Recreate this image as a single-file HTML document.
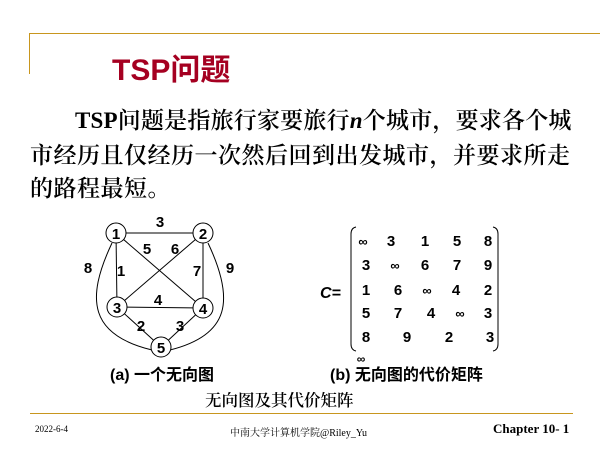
<!DOCTYPE html>
<html><head><meta charset="utf-8"><style>
body{margin:0;background:#fff;}
#c{position:relative;width:600px;height:450px;overflow:hidden;background:#fff;}
.t{position:absolute;white-space:nowrap;}
.body{font-family:"Liberation Serif","Noto Serif CJK SC",serif;font-size:23px;font-weight:600;color:#000;line-height:1;}
</style></head><body><div id="c">
<div style="position:absolute;left:29px;top:33px;width:571px;height:1px;background:#c8961e"></div>
<div style="position:absolute;left:29px;top:33px;width:1px;height:41px;background:#c8961e"></div>
<div class="t" style="left:112px;top:45px;font-family:'Liberation Sans','Noto Sans CJK SC',sans-serif;font-weight:bold;font-size:30px;color:#a50021;">TSP问题</div>
<div class="t body" style="left:75px;top:109px;letter-spacing:0.2px">TSP问题是指旅行家要旅行<i style="font-family:'Liberation Serif'">n</i>个城市，要求各个城</div>
<div class="t body" style="left:30px;top:144px;letter-spacing:0.5px">市经历且仅经历一次然后回到出发城市，并要求所走</div>
<div class="t body" style="left:30px;top:177px;letter-spacing:0.5px">的路程最短。</div>
<svg style="position:absolute;left:0;top:0" width="600" height="450" font-family="Liberation Sans, sans-serif" font-weight="bold">
<g stroke="#000" stroke-width="1" fill="none">
<line x1="116" y1="233" x2="203" y2="233"/>
<line x1="116" y1="233" x2="117" y2="307"/>
<line x1="203" y1="233" x2="203" y2="308"/>
<line x1="117" y1="307" x2="203" y2="308"/>
<line x1="116" y1="233" x2="203" y2="308"/>
<line x1="203" y1="233" x2="117" y2="307"/>
<line x1="117" y1="307" x2="161" y2="347"/>
<line x1="203" y1="308" x2="161" y2="347"/>
<path d="M112 243 C 85 300, 90 335, 152 350"/>
<path d="M208 243 C 235 300, 230 335, 170 350"/>
</g>
<g stroke="#000" fill="#fff">
<circle cx="116" cy="233" r="10"/><circle cx="203" cy="233" r="10"/>
<circle cx="117" cy="307" r="10"/><circle cx="203" cy="308" r="10"/>
<circle cx="161" cy="347" r="10"/>
</g>
<g font-size="15" text-anchor="middle" fill="#000">
<text x="116" y="239">1</text><text x="203" y="239">2</text><text x="117" y="313">3</text><text x="203" y="314">4</text><text x="161" y="353">5</text>
<text x="160" y="227">3</text><text x="147" y="254">5</text><text x="175" y="254">6</text>
<text x="88" y="273">8</text><text x="121" y="276">1</text><text x="197" y="276">7</text><text x="230" y="273">9</text>
<text x="158" y="305">4</text><text x="141" y="331">2</text><text x="180" y="331">3</text>
</g>
<g fill="none" stroke="#000" stroke-width="1">
<path d="M356 227 Q351 228 351 234 L351 344 Q351 350 356 351"/>
<path d="M493 227 Q498 228 498 234 L498 344 Q498 350 493 351"/>
</g>
<text x="320" y="298" font-size="16" font-style="italic">C=</text>
<g font-size="15" text-anchor="middle">
<text x="363" y="246" font-size="13">∞</text><text x="391" y="246">3</text><text x="425" y="246">1</text><text x="457" y="246">5</text><text x="488" y="246">8</text>
<text x="366" y="270">3</text><text x="395" y="270" font-size="13">∞</text><text x="425" y="270">6</text><text x="457" y="270">7</text><text x="488" y="270">9</text>
<text x="366" y="295">1</text><text x="398" y="295">6</text><text x="427" y="295" font-size="13">∞</text><text x="456" y="295">4</text><text x="488" y="295">2</text>
<text x="366" y="318">5</text><text x="398" y="318">7</text><text x="431" y="318">4</text><text x="460" y="318" font-size="13">∞</text><text x="488" y="318">3</text>
<text x="366" y="342">8</text><text x="407" y="342">9</text><text x="449" y="342">2</text><text x="490" y="342">3</text>
<text x="361" y="363" font-size="12">∞</text>
</g>
<text x="110" y="380" font-size="16" font-family="Liberation Sans, Noto Sans CJK SC, sans-serif">(a) 一个无向图</text>
<text x="330" y="380" font-size="16" font-family="Liberation Sans, Noto Sans CJK SC, sans-serif">(b) 无向图的代价矩阵</text>
</svg>
<div class="t" style="left:205px;top:387px;font-family:'Liberation Serif','Noto Serif CJK SC',serif;font-size:16.5px;font-weight:600;">无向图及其代价矩阵</div>
<div style="position:absolute;left:30px;top:413px;width:543px;height:1px;background:#c8961e"></div>
<div class="t" style="left:35px;top:424px;font-family:'Liberation Serif',serif;font-size:9px;">2022-6-4</div>
<div class="t" style="left:230px;top:424px;font-family:'Liberation Serif','Noto Serif CJK SC',serif;font-size:10px;">中南大学计算机学院@Riley_Yu</div>
<div class="t" style="left:493px;top:421px;font-family:'Liberation Serif',serif;font-size:13px;font-weight:bold;">Chapter 10- 1</div>
</div></body></html>
